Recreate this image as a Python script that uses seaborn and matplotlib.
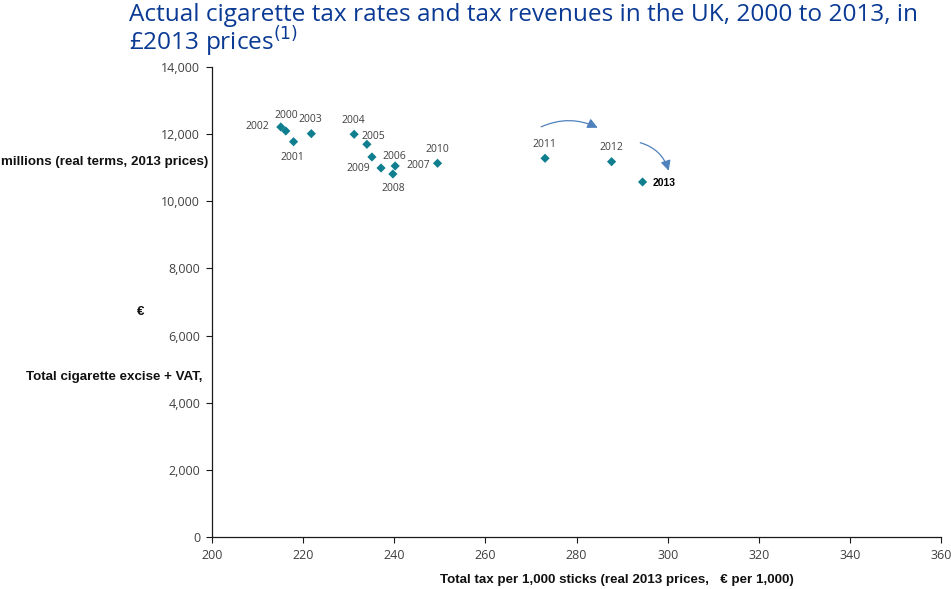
import matplotlib
matplotlib.use("Agg")
import matplotlib.pyplot as plt
import seaborn as sns
import pandas as pd
from matplotlib.patches import FancyArrowPatch
from matplotlib.ticker import FuncFormatter, MultipleLocator

years = [2000, 2001, 2002, 2003, 2004, 2005, 2006, 2007, 2008, 2009, 2010, 2011, 2012, 2013]
tax_per_1000 = [216.2, 217.9, 215.1, 221.8, 231.2, 234.0, 235.1, 240.2, 239.7, 237.1, 249.5, 273.1, 287.7, 294.5]
revenue = [12094, 11775, 12213, 12014, 11996, 11698, 11320, 11052, 10813, 10992, 11132, 11281, 11180, 10575]

title_line1 = "Actual cigarette tax rates and tax revenues in the UK, 2000 to 2013, in"
title_line2 = "£2013 prices$^{(1)}$"
xlabel = "Total tax per 1,000 sticks (real 2013 prices,   € per 1,000)"
ylabel_parts = ["millions (real terms, 2013 prices)", "€", "Total cigarette excise + VAT,"]

df = pd.DataFrame({"year": years, "tax": tax_per_1000, "revenue": revenue})

sns.set_style("white")
plt.rcParams["font.family"] = ["Liberation Sans", "DejaVu Sans"]

fig = plt.figure(figsize=(9.51, 5.89), dpi=100)
ax = fig.add_axes([212/951, 1-537/589, (941-212)/951, (537-67)/589])

sns.scatterplot(data=df, x="tax", y="revenue", ax=ax, marker="D", s=22,
                color="#0f7f8f", edgecolor="none", linewidth=0, zorder=3)

ax.set_xlim(200, 360)
ax.set_ylim(0, 14000)
ax.xaxis.set_major_locator(MultipleLocator(20))
ax.yaxis.set_major_locator(MultipleLocator(2000))
ax.yaxis.set_major_formatter(FuncFormatter(lambda v, p: f"{int(v):,}"))
for s in ["top", "right"]:
    ax.spines[s].set_visible(False)
for s in ["left", "bottom"]:
    ax.spines[s].set_color("#1a1a1a")
    ax.spines[s].set_linewidth(0.9)
ax.tick_params(axis="both", direction="out", length=4.5, width=0.8, color="#1a1a1a",
               labelsize=9, labelcolor="#404040", pad=4, left=True, bottom=True)
for lbl in ax.get_xticklabels() + ax.get_yticklabels():
    lbl.set_family(["Open Sans", "DejaVu Sans"])
ax.set_xlabel("")
ax.set_ylabel("")

# point labels: (offset_x_px, offset_y_px, ha)
offsets = {
    2000: (0, 15, "center"), 2001: (-1, -16, "center"), 2002: (-12, 0, "right"),
    2003: (-1, 14, "center"), 2004: (-1, 14, "center"), 2005: (-5, 8, "left"),
    2006: (11, 0, "left"), 2007: (11, 0, "left"), 2008: (0, -15, "center"),
    2009: (-11, -1, "right"), 2010: (0, 14, "center"), 2011: (-1, 14, "center"),
    2012: (0, 14, "center"), 2013: (10, -1, "left"),
}
for yr, xv, yv in zip(years, tax_per_1000, revenue):
    dx, dy, ha = offsets[yr]
    bold = yr == 2013
    ax.annotate(str(yr), (xv, yv), xytext=(dx, dy), textcoords="offset pixels",
                ha=ha, va="center", fontsize=7.5,
                fontweight="bold" if bold else "normal",
                color="#000000" if bold else "#404040",
                family=["Liberation Sans"] if bold else ["Open Sans", "DejaVu Sans"])

# curved arrows
arrow_kw = dict(arrowstyle="-|>,head_length=6,head_width=3", color="#4f81bd", lw=0.9,
                mutation_scale=1)
ax.add_patch(FancyArrowPatch((271.7, 12184), (285.2, 12154),
                             connectionstyle="arc3,rad=-0.25", **arrow_kw))
ax.add_patch(FancyArrowPatch((293.4, 11767), (300.4, 10830),
                             connectionstyle="arc3,rad=-0.3", **arrow_kw))

# title (two lines, positioned by baseline)
title_kw = dict(ha="left", va="baseline", fontsize=17.6, color="#0a3a94",
                family=["Open Sans", "DejaVu Sans"])
fig.text(129/951, 1-21/589, title_line1, **title_kw)
fig.text(129/951, 1-50/589, title_line2, **title_kw)

# axis labels
fig.text(617/951, 1-580/589, xlabel, ha="center", va="center", fontsize=9.6,
         fontweight="bold", color="#111111")
fig.text(208/951, 1-162/589, ylabel_parts[0], ha="right", va="center", fontsize=9.6,
         fontweight="bold", color="#111111")
fig.text(141/951, 1-312/589, ylabel_parts[1], ha="center", va="center", fontsize=9.6,
         fontweight="bold", color="#111111")
fig.text(203/951, 1-377/589, ylabel_parts[2], ha="right", va="center", fontsize=9.6,
         fontweight="bold", color="#111111")

fig.savefig("out.png", dpi=100)
